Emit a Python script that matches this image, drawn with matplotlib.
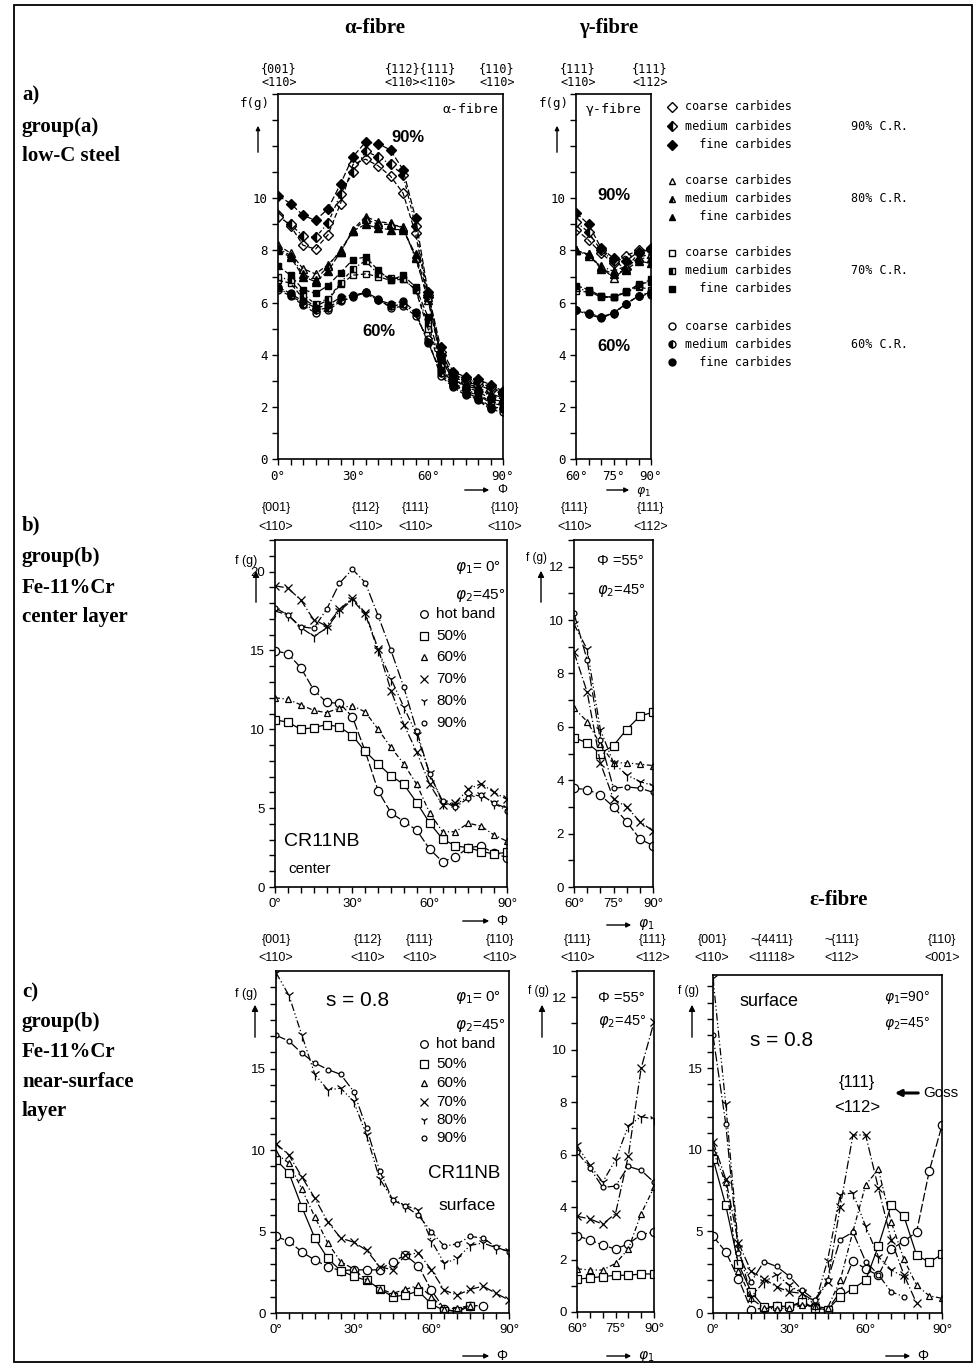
import numpy as np
import matplotlib
matplotlib.use("Agg")
import matplotlib.pyplot as plt
from matplotlib.patches import Rectangle, FancyArrowPatch
from matplotlib.lines import Line2D

nan = np.nan
# ---------------- data ----------------
phi_alpha = list(range(0, 95, 5))
phi1_gamma = list(range(60, 95, 5))

# row a) low-C steel, alpha fibre
a90_coarse = [9.35, 8.95, 8.2, 8.05, 8.6, 9.8, 11.3, 11.5, 11.25, 10.85, 10.2, 8.65, 6.2, 4.0, 3.15, 2.95, 2.85, 2.65, 2.5]
a90_medium = [9.3, 9.0, 8.55, 8.5, 9.05, 10.15, 11.0, 11.8, 11.6, 11.3, 10.9, 8.95, 6.3, 4.1, 3.25, 3.05, 2.95, 2.75, 2.55]
a90_fine = [10.1, 9.8, 9.35, 9.15, 9.6, 10.55, 11.6, 12.15, 12.1, 11.85, 11.1, 9.25, 6.4, 4.3, 3.35, 3.15, 3.05, 2.85, 2.6]
a80_coarse = [8.2, 7.9, 7.3, 7.1, 7.45, 7.95, 8.8, 9.3, 9.1, 9.05, 8.85, 7.75, 6.1, 3.9, 3.05, 2.8, 2.7, 2.45, 2.3]
a80_medium = [8.1, 7.8, 7.1, 6.85, 7.4, 8.0, 8.75, 9.2, 9.0, 9.0, 8.9, 7.7, 6.2, 4.0, 3.1, 2.8, 2.7, 2.4, 2.3]
a80_fine = [8.0, 7.75, 7.0, 6.8, 7.2, 7.95, 8.75, 9.0, 8.85, 8.8, 8.8, 7.85, 6.35, 4.1, 3.2, 2.9, 2.75, 2.5, 2.35]
a70_coarse = [6.85, 6.75, 6.15, 5.85, 6.1, 6.7, 7.05, 7.1, 7.0, 6.85, 6.9, 6.5, 5.0, 3.5, 2.9, 2.6, 2.45, 2.15, 2.05]
a70_medium = [7.0, 6.85, 6.3, 5.95, 6.15, 6.75, 7.3, 7.6, 7.1, 6.95, 6.9, 6.5, 5.2, 3.6, 2.95, 2.65, 2.5, 2.2, 2.1]
a70_fine = [7.4, 7.05, 6.5, 6.35, 6.65, 7.15, 7.65, 7.75, 7.25, 6.85, 7.05, 6.6, 5.45, 3.8, 3.1, 2.75, 2.6, 2.3, 2.2]
a60_coarse = [6.5, 6.25, 5.9, 5.6, 5.7, 6.05, 6.2, 6.4, 6.15, 5.8, 5.85, 5.5, 4.6, 3.2, 2.75, 2.45, 2.25, 1.9, 1.8]
a60_medium = [6.55, 6.3, 5.95, 5.7, 5.8, 6.1, 6.25, 6.4, 6.1, 5.85, 5.95, 5.6, 4.5, 3.3, 2.8, 2.5, 2.3, 1.95, 1.9]
a60_fine = [6.6, 6.35, 6.05, 5.8, 5.9, 6.2, 6.3, 6.35, 6.1, 5.95, 6.05, 5.65, 4.45, 3.4, 2.85, 2.55, 2.35, 2.0, 1.95]

# row a) gamma fibre
g90_coarse = [8.8, 8.4, 7.9, 7.5, 7.8, 8.0, 8.0]
g90_medium = [9.1, 8.7, 8.0, 7.6, 7.3, 7.9, 8.05]
g90_fine = [9.45, 9.0, 8.1, 7.7, 7.6, 7.95, 8.1]
g80_coarse = [8.0, 7.85, 7.35, 6.95, 7.3, 7.75, 7.85]
g80_medium = [8.0, 7.8, 7.4, 7.2, 7.4, 7.7, 7.7]
g80_fine = [8.0, 7.85, 7.3, 7.1, 7.25, 7.6, 7.5]
g70_coarse = [6.45, 6.4, 6.25, 6.2, 6.4, 6.6, 6.5]
g70_medium = [6.55, 6.45, 6.2, 6.2, 6.45, 6.65, 6.9]
g70_fine = [6.65, 6.5, 6.25, 6.2, 6.4, 6.7, 6.8]
g60_coarse = [5.7, 5.6, 5.45, 5.6, 5.95, 6.25, 6.4]
g60_medium = [5.7, 5.55, 5.45, 5.55, 5.95, 6.25, 6.35]
g60_fine = [5.7, 5.55, 5.4, 5.6, 5.95, 6.25, 6.3]

# row b) Fe-11%Cr center layer
b_hot = [14.97, 14.8, 13.9, 12.5, 11.7, 11.65, 10.8, 8.6, 6.1, 4.7, 4.15, 3.6, 2.4, 1.6, 1.9, 2.5, 2.6, 2.15, 1.85]
b_50 = [10.6, 10.45, 10.0, 10.1, 10.3, 10.15, 9.6, 8.6, 7.8, 7.05, 6.5, 5.35, 4.05, 3.05, 2.6, 2.5, 2.25, 2.1, 2.2]
b_60 = [12.0, 11.9, 11.55, 11.2, 11.05, 11.35, 11.5, 11.1, 10.0, 8.85, 7.8, 6.5, 4.7, 3.5, 3.5, 4.05, 3.85, 3.3, 2.9]
b_70 = [19.1, 18.95, 18.2, 16.95, 16.55, 17.6, 18.3, 17.4, 15.1, 12.45, 10.3, 8.55, 6.5, 5.2, 5.35, 6.2, 6.55, 6.0, 5.55]
b_80 = [17.5, 17.25, 16.45, 15.9, 16.4, 17.5, 18.2, 17.3, 15.0, 13.2, 11.4, 9.65, 7.2, 5.35, 5.2, 5.75, 5.85, 5.3, 5.0]
b_90 = [17.7, 17.25, 16.5, 16.4, 17.6, 19.25, 20.15, 19.3, 17.2, 15.0, 12.65, 9.9, 7.15, 5.45, 5.05, 5.65, 5.85, 5.3, 4.85]

bg_hot = [3.7, 3.65, 3.45, 3.0, 2.45, 1.8, 1.55]
bg_50 = [5.6, 5.4, 5.0, 5.3, 5.9, 6.4, 6.55]
bg_60 = [6.7, 6.2, 5.35, 4.65, 4.65, 4.6, 4.55]
bg_70 = [8.8, 7.3, 4.65, 3.3, 3.0, 2.45, 2.1]
bg_80 = [9.85, 8.9, 5.9, 4.65, 4.2, 3.95, 3.8]
bg_90 = [10.25, 8.5, 5.5, 3.7, 3.75, 3.7, 3.55]

# row c) Fe-11%Cr near-surface layer
c_hot = [4.7, 4.4, 3.75, 3.25, 2.85, 2.6, 2.65, 2.65, 2.65, 3.15, 3.55, 2.9, 1.4, 0.25, 0.05, 0.45, 0.45, nan, nan]
c_50 = [9.4, 8.6, 6.5, 4.6, 3.35, 2.6, 2.25, 2.0, 1.5, 1.0, 1.1, 1.35, 0.55, 0.15, 0.15, 0.45, nan, nan, nan]
c_60 = [9.8, 9.2, 7.6, 5.9, 4.3, 3.15, 2.7, 2.0, 1.5, 1.2, 1.45, 1.7, 1.0, 0.25, 0.3, 0.45, nan, nan, nan]
c_70 = [10.4, 9.7, 8.35, 7.05, 5.6, 4.6, 4.35, 3.85, 2.85, 2.65, 3.55, 3.7, 2.65, 1.4, 1.1, 1.45, 1.65, 1.2, 0.8]
c_80 = [20.9, 19.5, 17.05, 14.65, 13.7, 13.8, 13.0, 10.9, 8.25, 7.0, 6.6, 6.3, 4.45, 3.05, 3.35, 4.15, 4.3, 4.0, 3.8]
c_90 = [17.05, 16.7, 15.95, 15.35, 14.95, 14.65, 13.6, 11.35, 8.75, 6.95, 6.55, 6.0, 5.0, 4.1, 4.25, 4.7, 4.6, 4.05, 3.75]

cg_hot = [2.9, 2.75, 2.55, 2.4, 2.6, 2.95, 3.05]
cg_50 = [1.25, 1.3, 1.35, 1.4, 1.4, 1.45, 1.45]
cg_60 = [1.65, 1.6, 1.6, 1.85, 2.4, 3.75, 4.75]
cg_70 = [3.65, 3.55, 3.35, 3.75, 5.95, 9.3, 11.05]
cg_80 = [6.35, 5.6, 4.95, 5.8, 7.1, 7.45, 7.35]
cg_90 = [6.1, 5.5, 4.75, 4.8, 5.55, 5.4, 4.95]

# epsilon fibre (near surface)
e_hot = [4.7, 3.75, 2.1, 0.2, 0.3, 0.4, 0.4, 0.6, 0.3, 0.2, 1.3, 3.2, 2.7, 2.3, 3.9, 4.4, 4.95, 8.7, 11.5]
e_50 = [9.45, 6.6, 3.0, 1.3, 0.35, 0.4, 0.4, 0.7, 0.3, 0.2, 1.0, 1.5, 2.0, 4.1, 6.6, 5.95, 3.55, 3.1, 3.6]
e_60 = [9.9, 8.0, 2.6, 0.9, 0.3, 0.25, 0.3, 0.5, 0.4, 0.3, 2.0, 5.0, 7.85, 8.8, 5.6, 3.3, 1.7, 1.05, 0.9]
e_70 = [10.5, 8.2, 4.3, 2.55, 2.1, 1.6, 1.3, 1.2, 0.7, 1.9, 6.5, 10.9, 10.9, 7.65, 4.5, 2.35, 0.6, nan, nan]
e_80 = [20.5, 12.8, 4.0, 1.0, 1.9, 2.35, 1.7, 1.2, 0.5, 3.2, 7.25, 7.35, 5.3, 3.45, 2.65, 2.2, nan, nan, nan]
e_90 = [17.0, 11.6, 3.65, 1.9, 3.15, 2.85, 2.25, 1.4, 0.8, 2.0, 4.5, 4.95, 3.15, 2.35, 1.3, 1.0, nan, nan, nan]

legend_b = ["hot band", "50%", "60%", "70%", "80%", "90%"]
legend_a_sizes = ["coarse carbides", "medium carbides", "fine carbides"]
legend_a_cr = ["90% C.R.", "80% C.R.", "70% C.R.", "60% C.R."]

# ---------------- figure ----------------
W, H = 977, 1369
fig = plt.figure(figsize=(W / 100, H / 100), dpi=100)
fig.patch.set_facecolor("white")
SERIF = "Liberation Serif"
SANS = "Liberation Sans"
MONO = "DejaVu Sans Mono"


def add_ax(l, t, r, b):
    return fig.add_axes([l / W, 1 - b / H, (r - l) / W, (b - t) / H])


def ftext(x, y, s, **kw):
    kw.setdefault("ha", "left")
    kw.setdefault("va", "center")
    fig.text(x / W, 1 - y / H, s, **kw)


def farrow(x0, y0, x1, y1, lw=1.0, ms=8):
    fig.add_artist(FancyArrowPatch((x0 / W, 1 - y0 / H), (x1 / W, 1 - y1 / H),
                                   transform=fig.transFigure, arrowstyle="-|>",
                                   mutation_scale=ms, lw=lw, color="black"))


def style_ax(ax, xlim, ylim, xt, xtl, ymaj, ylabels, font, fs):
    ax.set_xlim(*xlim)
    ax.set_ylim(*ylim)
    ax.set_xticks(xt)
    ax.set_xticklabels(xtl, fontsize=fs, family=font)
    ax.set_xticks(np.arange(xlim[0], xlim[1] + 0.1, 5), minor=True)
    ax.set_yticks(ymaj)
    ax.set_yticklabels(ylabels, fontsize=fs, family=font)
    ax.tick_params(axis="both", which="both", direction="out", length=4, width=1)
    ax.tick_params(axis="x", which="major", length=4, pad=4)
    for s in ax.spines.values():
        s.set_linewidth(1.2)


def ylabels_for(ticks, shown):
    return [str(t) if t in shown else "" for t in ticks]


# ---------- row a ----------
ax_aa = add_ax(278, 94, 503, 459)
ax_ag = add_ax(576, 94, 651, 459)
yt = list(range(0, 15))
style_ax(ax_aa, (0, 90), (0, 14), [0, 30, 60, 90], ["0°", "30°", "60°", "90°"], yt,
         ylabels_for(yt, [0, 2, 4, 6, 8, 10]), MONO, 9)
style_ax(ax_ag, (60, 90), (0, 14), [60, 75, 90], ["60°", "75°", "90°"], yt,
         ylabels_for(yt, [0, 2, 4, 6, 8, 10]), MONO, 9)

a_groups = [
    ("D", [a90_coarse, a90_medium, a90_fine], [g90_coarse, g90_medium, g90_fine], 5),
    ("^", [a80_coarse, a80_medium, a80_fine], [g80_coarse, g80_medium, g80_fine], 5.5),
    ("s", [a70_coarse, a70_medium, a70_fine], [g70_coarse, g70_medium, g70_fine], 5),
    ("o", [a60_coarse, a60_medium, a60_fine], [g60_coarse, g60_medium, g60_fine], 5),
]
fills = ["none", "left", "full"]
lstyles_a = [(0, (4, 2)), (0, (3, 2, 1, 2)), (0, (5, 2))]
for mk, aser, gser, ms in a_groups:
    for i in range(3):
        kw = dict(color="black", lw=0.9, ls=lstyles_a[i], marker=mk, ms=ms,
                  fillstyle=fills[i], markerfacecolor="black", markerfacecoloralt="white",
                  markeredgecolor="black", mew=1.0)
        ax_aa.plot(phi_alpha, aser[i], **kw)
        ax_ag.plot(phi1_gamma, gser[i], **kw)

ax_aa.text(0.98, 0.975, "α-fibre", transform=ax_aa.transAxes, ha="right", va="top",
           family=MONO, fontsize=9.5)
ax_ag.text(0.5, 0.975, "γ-fibre", transform=ax_ag.transAxes, ha="center", va="top",
           family=MONO, fontsize=9.5)
ax_aa.text(52, 12.35, "90%", family=SANS, weight="bold", fontsize=12, ha="center", va="center")
ax_aa.text(40.5, 4.9, "60%", family=SANS, weight="bold", fontsize=12, ha="center", va="center")
ax_ag.text(75, 10.1, "90%", family=SANS, weight="bold", fontsize=12, ha="center", va="center")
ax_ag.text(75, 4.3, "60%", family=SANS, weight="bold", fontsize=12, ha="center", va="center")

# top orientation labels row a
for x, l1, l2 in [(279, "{001}", "<110>"), (420, "{112}{111}", "<110><110>"), (497, "{110}", "<110>"),
                  (578, "{111}", "<110>"), (650, "{111}", "<112>")]:
    ftext(x, 69, l1, ha="center", family=MONO, fontsize=8.5)
    ftext(x, 83, l2, ha="center", family=MONO, fontsize=8.5)

ftext(255, 104, "f(g)", ha="center", family=MONO, fontsize=9)
farrow(258, 155, 258, 123, ms=6)
ftext(554, 104, "f(g)", ha="center", family=MONO, fontsize=9)
farrow(557, 155, 557, 123, ms=6)
farrow(462, 490, 492, 490, ms=7)
ftext(497, 490, "Φ", family=SANS, fontsize=9)
farrow(604, 490, 632, 490, ms=7)
ftext(636, 492, r"$\varphi_1$", family=SANS, fontsize=9)

# legend row a
leg_rows = [(107, 126, 145), (181, 199, 217), (253, 271, 289), (326, 344, 362)]
leg_mk = ["D", "^", "s", "o"]
for (ys, mk, cr) in zip(leg_rows, leg_mk, legend_a_cr):
    for i, y in enumerate(ys):
        fig.add_artist(Line2D([672 / W], [1 - y / H], marker=mk, ms=5, color="black",
                              fillstyle=fills[i], markerfacecolor="black",
                              markerfacecoloralt="white", mew=1.0, ls="none",
                              transform=fig.transFigure))
        txt = legend_a_sizes[i] if i < 2 else "  " + legend_a_sizes[i]
        ftext(685, y, txt, family=MONO, fontsize=8.5)
    ftext(851, ys[1], cr, family=MONO, fontsize=8.5)

# ---------- row b / c helpers ----------
b_markers = [("o", 6, "none"), ("s", 6, "none"), ("^", 4.5, "none"),
             ("x", 6, "none"), ("1", 8, "none"), ("o", 3.5, "none")]
b_ls = [(0, (7, 2)), "-", (0, (4, 2, 1, 2)), (0, (7, 2, 1, 2)), (0, (6, 2, 1, 2, 1, 2)), (0, (8, 2, 1, 2))]


def plot_six(ax, x, series):
    for (mk, ms, fs), ls, y in zip(b_markers, b_ls, series):
        ax.plot(x, y, color="black", lw=0.9, ls=ls, marker=mk, ms=ms,
                markerfacecolor="white", markeredgecolor="black", mew=0.9)


def legend_six(ys):
    for (mk, ms, fs), lab, y in zip(b_markers, legend_b, ys):
        fig.add_artist(Line2D([424 / W], [1 - y / H], marker=mk, ms=min(ms, 5.5), color="black",
                              markerfacecolor="white", mew=0.9, ls="none",
                              transform=fig.transFigure))
        ftext(436, y, lab, family=SANS, fontsize=11)


# ---------- row b ----------
ax_ba = add_ax(275, 540, 507, 887)
ax_bg = add_ax(574, 540, 653, 887)
ytb = list(range(0, 23))
style_ax(ax_ba, (0, 90), (0, 22), [0, 30, 60, 90], ["0°", "30°", "60°", "90°"], ytb,
         ylabels_for(ytb, [0, 5, 10, 15, 20]), SANS, 9.5)
ytg = list(range(0, 14))
style_ax(ax_bg, (60, 90), (0, 13), [60, 75, 90], ["60°", "75°", "90°"], ytg,
         ylabels_for(ytg, [0, 2, 4, 6, 8, 10, 12]), SANS, 9.5)
plot_six(ax_ba, phi_alpha, [b_hot, b_50, b_60, b_70, b_80, b_90])
plot_six(ax_bg, phi1_gamma, [bg_hot, bg_50, bg_60, bg_70, bg_80, bg_90])
legend_six([614, 636, 657, 679, 701, 723])
ftext(455, 567, r"$\varphi_1$= 0°", family=SANS, fontsize=11)
ftext(455, 596, r"$\varphi_2$=45°", family=SANS, fontsize=11)
ftext(284, 842, "CR11NB", family=SANS, fontsize=14)
ftext(288, 869, "center", family=SANS, fontsize=11)
ftext(597, 561, "Φ =55°", family=SANS, fontsize=10.5)
ftext(597, 590, r"$\varphi_2$=45°", family=SANS, fontsize=10.5)

for x, l1, l2 in [(276, "{001}", "<110>"), (366, "{112}", "<110>"), (416, "{111}", "<110>"),
                  (505, "{110}", "<110>"), (575, "{111}", "<110>"), (651, "{111}", "<112>")]:
    ftext(x, 508, l1, ha="center", family=SANS, fontsize=9)
    ftext(x, 527, l2, ha="center", family=SANS, fontsize=9)

ftext(246, 561, "f (g)", ha="center", family=SANS, fontsize=9)
farrow(256, 605, 256, 568, ms=9)
ftext(537, 558, "f (g)", ha="center", family=SANS, fontsize=8.5)
farrow(541, 605, 541, 568, ms=9)
farrow(460, 921, 492, 921, ms=7)
ftext(496, 921, "Φ", family=SANS, fontsize=10)
farrow(604, 925, 634, 925, ms=7)
ftext(638, 925, r"$\varphi_1$", family=SANS, fontsize=10)

# ---------- row c ----------
ax_ca = add_ax(276, 971, 509, 1313)
ax_cg = add_ax(577, 971, 654, 1312)
ax_ce = add_ax(713, 975, 942, 1313)
ytc = list(range(0, 21))
style_ax(ax_ca, (0, 90), (0, 21), [0, 30, 60, 90], ["0°", "30°", "60°", "90°"], ytc,
         ylabels_for(ytc, [0, 5, 10, 15]), SANS, 9.5)
style_ax(ax_cg, (60, 90), (0, 13), [60, 75, 90], ["60°", "75°", "90°"], ytg,
         ylabels_for(ytg, [0, 2, 4, 6, 8, 10, 12]), SANS, 9.5)
style_ax(ax_ce, (0, 90), (0, 20.7), [0, 30, 60, 90], ["0°", "30°", "60°", "90°"], ytc,
         ylabels_for(ytc, [0, 5, 10, 15]), SANS, 9.5)
plot_six(ax_ca, phi_alpha, [c_hot, c_50, c_60, c_70, c_80, c_90])
plot_six(ax_cg, phi1_gamma, [cg_hot, cg_50, cg_60, cg_70, cg_80, cg_90])
plot_six(ax_ce, phi_alpha, [e_hot, e_50, e_60, e_70, e_80, e_90])

legend_six([1044, 1064, 1083, 1102, 1120, 1138])
ftext(326, 1001, "s = 0.8", family=SANS, fontsize=15)
ftext(455, 998, r"$\varphi_1$= 0°", family=SANS, fontsize=11)
ftext(455, 1025, r"$\varphi_2$=45°", family=SANS, fontsize=11)
ftext(428, 1174, "CR11NB", family=SANS, fontsize=13.5)
ftext(438, 1206, "surface", family=SANS, fontsize=12.5)
ftext(598, 998, "Φ =55°", family=SANS, fontsize=10.5)
ftext(598, 1022, r"$\varphi_2$=45°", family=SANS, fontsize=10.5)
ftext(740, 1002, "surface", family=SANS, fontsize=13)
ftext(750, 1041, "s = 0.8", family=SANS, fontsize=15)
ftext(884, 997, r"$\varphi_1$=90°", family=SANS, fontsize=10)
ftext(884, 1024, r"$\varphi_2$=45°", family=SANS, fontsize=10)
ftext(857, 1083, "{111}", ha="center", family=SANS, fontsize=12)
ftext(857, 1107, "<112>", ha="center", family=SANS, fontsize=12)
farrow(921, 1093, 892, 1093, lw=2.2, ms=9)
ftext(923, 1093, "Goss", family=SANS, fontsize=11)

for x, l1, l2 in [(276, "{001}", "<110>"), (368, "{112}", "<110>"), (420, "{111}", "<110>"),
                  (500, "{110}", "<110>"), (578, "{111}", "<110>"), (653, "{111}", "<112>"),
                  (712, "{001}", "<110>"), (772, "~{4411}", "<11118>"), (842, "~{111}", "<112>"),
                  (942, "{110}", "<001>")]:
    ftext(x, 940, l1, ha="center", family=SANS, fontsize=9)
    ftext(x, 958, l2, ha="center", family=SANS, fontsize=9)

ftext(246, 994, "f (g)", ha="center", family=SANS, fontsize=9)
farrow(255, 1040, 255, 1002, ms=9)
ftext(538, 991, "f (g)", ha="center", family=SANS, fontsize=8.5)
farrow(542, 1040, 542, 1002, ms=9)
ftext(688, 991, "f (g)", ha="center", family=SANS, fontsize=8.5)
farrow(692, 1040, 692, 1002, ms=9)
farrow(460, 1356, 492, 1356, ms=7)
ftext(496, 1356, "Φ", family=SANS, fontsize=10)
farrow(604, 1356, 634, 1356, ms=7)
ftext(638, 1356, r"$\varphi_1$", family=SANS, fontsize=10)
farrow(883, 1356, 913, 1356, ms=7)
ftext(917, 1356, "Φ", family=SANS, fontsize=10)

# ---------- headings / side labels ----------
ftext(375, 28, "α-fibre", ha="center", family=SERIF, weight="bold", fontsize=15)
ftext(609, 28, "γ-fibre", ha="center", family=SERIF, weight="bold", fontsize=15)
ftext(839, 900, "ε-fibre", ha="center", family=SERIF, weight="bold", fontsize=15)

for y, s in [(95, "a)"), (127, "group(a)"), (156, "low-C steel"),
             (525, "b)"), (557, "group(b)"), (588, "Fe-11%Cr"), (617, "center layer"),
             (992, "c)"), (1022, "group(b)"), (1052, "Fe-11%Cr"), (1082, "near-surface"),
             (1111, "layer")]:
    ftext(22, y, s, family=SERIF, weight="bold", fontsize=15)

fig.add_artist(Rectangle((14 / W, 1 - 1362 / H), (972 - 14) / W, (1362 - 5) / H,
                         transform=fig.transFigure, fill=False, lw=1.3, ec="black"))

fig.savefig("out.png", dpi=100, facecolor="white")
